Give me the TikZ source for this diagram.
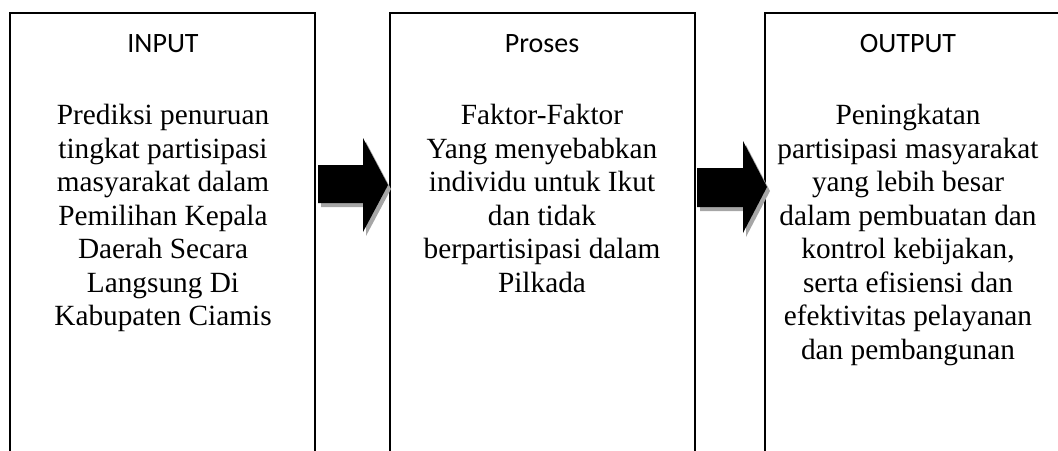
\documentclass[tikz,border=0pt]{standalone}
\usepackage{fontspec}
\newfontfamily\bodyfont{Liberation Serif}
\newfontfamily\titlefont{Carlito}
\begin{document}
\begin{tikzpicture}[x=1pt,y=-1pt,
  box/.style={draw=black, line width=1.7pt},
  boxtitle/.style={font=\titlefont\fontsize{28}{32}\selectfont, anchor=base, inner sep=0pt},
  boxbody/.style={font=\bodyfont\fontsize{29.3}{33.5}\selectfont, align=center, anchor=north, inner sep=0pt},
  blockarrow/.style={fill=black},
  arrowshadow/.style={fill=black!35}]
\useasboundingbox (0,0) rectangle (1058,450);
\clip (0,0) rectangle (1058,450);
% boxes (open below the picture's edge)
\draw[box] (10,13) rectangle (315,480);
\draw[box] (390,13) rectangle (695,480);
\draw[box] (765,13) rectangle (1070,480);
% titles
\node[boxtitle] (tin) at (163,52) {INPUT};
\node[boxtitle] (tpr) at (542,52) {Proses};
\node[boxtitle] (tout) at (908,52) {OUTPUT};
% bodies
\node[boxbody] (bin) at (163,104) {Prediksi penuruan\\tingkat partisipasi\\masyarakat dalam\\Pemilihan Kepala\\Daerah Secara\\Langsung Di\\Kabupaten Ciamis};
\node[boxbody] (bpr) at (542,104) {Faktor-Faktor\\Yang menyebabkan\\individu untuk Ikut\\dan tidak\\berpartisipasi dalam\\Pilkada};
\node[boxbody] (bout) at (908,104) {Peningkatan\\partisipasi masyarakat\\yang lebih besar\\dalam pembuatan dan\\kontrol kebijakan,\\serta efisiensi dan\\efektivitas pelayanan\\dan pembangunan};
% block arrows
\begin{scope}[shift={(3,4)}]
\fill[arrowshadow] (318,165) -- (363,165) -- (363,138) -- (388,185) -- (363,232) -- (363,203) -- (318,203) -- cycle;
\fill[arrowshadow] (697,168) -- (743,168) -- (743,141) -- (767,187) -- (743,233) -- (743,207) -- (697,207) -- cycle;
\end{scope}
\fill[blockarrow] (318,165) -- (363,165) -- (363,138) -- (388,185) -- (363,232) -- (363,203) -- (318,203) -- cycle;
\fill[blockarrow] (697,168) -- (743,168) -- (743,141) -- (767,187) -- (743,233) -- (743,207) -- (697,207) -- cycle;
\end{tikzpicture}
\end{document}
